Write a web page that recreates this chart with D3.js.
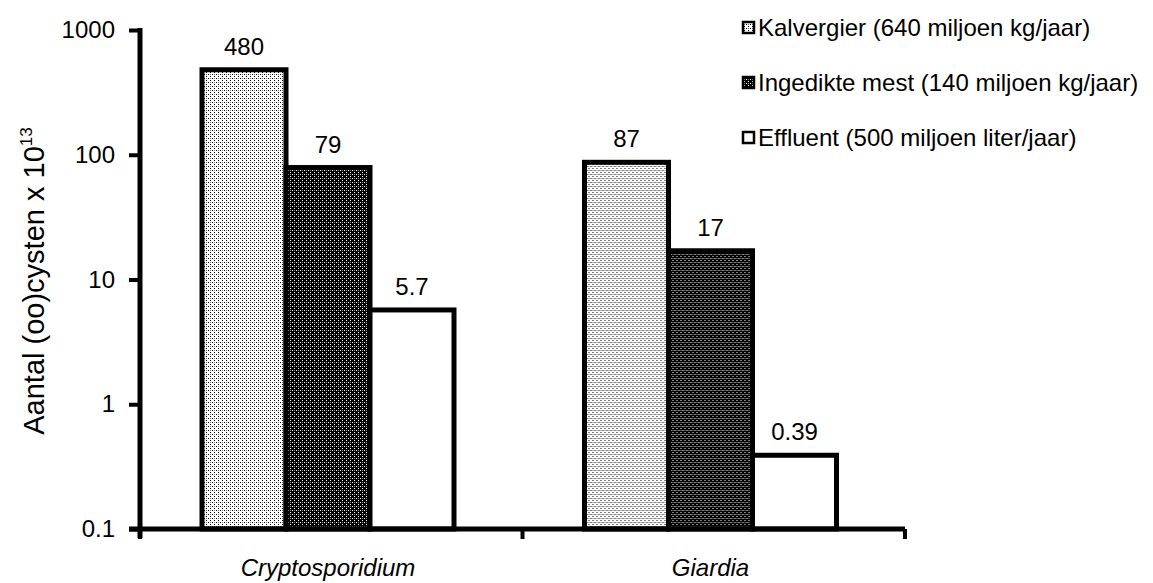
<!DOCTYPE html>
<html>
<head>
<meta charset="utf-8">
<script src="https://cdn.jsdelivr.net/npm/d3@7"></script>
<style>
  body { margin: 0; background: #fff; }
  svg { font-family: "Liberation Sans", Arial, sans-serif; }
</style>
</head>
<body>
<div id="chart-area"></div>
<script>
// data
const categories = ["Cryptosporidium", "Giardia"];
const seriesNames = [
  "Kalvergier (640 miljoen kg/jaar)",
  "Ingedikte mest (140 miljoen kg/jaar)",
  "Effluent (500 miljoen liter/jaar)"
];
const cryptoValues = [480, 79, 5.7];
const giardiaValues = [87, 17, 0.39];
const valueLabels = [["480", "79", "5.7"], ["87", "17", "0.39"]];
const yTicks = [0.1, 1, 10, 100, 1000];
const yTickLabels = ["0.1", "1", "10", "100", "1000"];

const W = 1153, H = 583;
const margin = { left: 140, right: 248, top: 30, bottom: 54 };
const width = W - margin.left - margin.right,
      height = H - margin.top - margin.bottom;

const svg = d3.select("#chart-area")
  .append("svg")
    .attr("width", W)
    .attr("height", H);

// stipple patterns
const defs = svg.append("defs");
const light = defs.append("pattern").attr("id", "light")
  .attr("patternUnits", "userSpaceOnUse").attr("width", 4).attr("height", 4);
light.append("rect").attr("width", 4).attr("height", 4).attr("fill", "#fff");
light.append("rect").attr("x", 0).attr("y", 0).attr("width", 1).attr("height", 1).attr("fill", "#000");
light.append("rect").attr("x", 2).attr("y", 2).attr("width", 1).attr("height", 1).attr("fill", "#000");
light.append("rect").attr("x", 2).attr("y", 0).attr("width", 1).attr("height", 1).attr("fill", "#777");

const dark = defs.append("pattern").attr("id", "dark")
  .attr("patternUnits", "userSpaceOnUse").attr("width", 4).attr("height", 4);
dark.append("rect").attr("width", 4).attr("height", 4).attr("fill", "#000");
dark.append("rect").attr("x", 0).attr("y", 0).attr("width", 1).attr("height", 1).attr("fill", "#fff");
dark.append("rect").attr("x", 2).attr("y", 2).attr("width", 1).attr("height", 1).attr("fill", "#fff");
dark.append("rect").attr("x", 2).attr("y", 0).attr("width", 1).attr("height", 1).attr("fill", "#888");

const fills = ["url(#light)", "url(#dark)", "#fff"];

const g = svg.append("g")
  .attr("transform", "translate(" + margin.left + ", " + margin.top + ")");

const xScale = d3.scaleBand()
  .domain(categories)
  .range([0, width]);

const xInner = d3.scaleBand()
  .domain(d3.range(seriesNames.length))
  .range([62, 62 + 252]);

const yScale = d3.scaleLog()
  .domain([0.1, 1000])
  .range([height, 0]);

const data = [cryptoValues, giardiaValues];

// bars
categories.forEach((cat, ci) => {
  const grp = g.append("g").attr("transform", "translate(" + xScale(cat) + ",0)");
  grp.selectAll("rect")
    .data(data[ci])
    .enter()
    .append("rect")
      .attr("x", (d, i) => xInner(i))
      .attr("y", (d) => yScale(d))
      .attr("width", xInner.bandwidth())
      .attr("height", (d) => height - yScale(d))
      .attr("fill", (d, i) => fills[i])
      .attr("stroke", "#000")
      .attr("stroke-width", 5);

  grp.selectAll("text.val")
    .data(data[ci])
    .enter()
    .append("text")
      .attr("class", "val")
      .attr("x", (d, i) => xInner(i) + xInner.bandwidth() / 2)
      .attr("y", (d) => yScale(d) - 15)
      .attr("text-anchor", "middle")
      .attr("font-size", 24)
      .text((d, i) => valueLabels[ci][i]);
});

// y axis
const yAxis = d3.axisLeft(yScale)
  .tickValues(yTicks)
  .tickFormat((d, i) => yTickLabels[i])
  .tickSize(11)
  .tickPadding(14);
const yg = g.append("g").call(yAxis);
yg.select(".domain").attr("stroke-width", 5).attr("d", "M0,-2V" + (height + 9));
yg.selectAll(".tick line").attr("stroke-width", 4);
yg.selectAll(".tick text").attr("font-size", 24).attr("font-family", "Liberation Sans, Arial, sans-serif").attr("fill", "#000");

// x axis
const xg = g.append("g").attr("transform", "translate(0," + height + ")");
xg.append("line")
  .attr("x1", -11).attr("x2", width)
  .attr("stroke", "#000").attr("stroke-width", 5);
xg.selectAll("line.tick")
  .data(xScale.domain().map((d) => xScale(d)).concat([width]))
  .enter()
  .append("line")
    .attr("class", "tick")
    .attr("x1", (d) => d).attr("x2", (d) => d)
    .attr("y1", 0).attr("y2", 10)
    .attr("stroke", "#000").attr("stroke-width", 4);
xg.selectAll("text")
  .data(categories)
  .enter()
  .append("text")
    .attr("x", (d) => xScale(d) + xInner(0) + 126)
    .attr("y", 47)
    .attr("text-anchor", "middle")
    .attr("font-size", 24)
    .attr("font-style", "italic")
    .text((d) => d);

// y title
const yt = svg.append("text")
  .attr("transform", "translate(44,281) rotate(-90)")
  .attr("text-anchor", "middle")
  .attr("font-size", 29);
yt.append("tspan").text("Aantal (oo)cysten x 10");
yt.append("tspan").attr("font-size", 17).attr("dy", -12).text("13");

// legend
const legend = svg.append("g").attr("transform", "translate(742, 28)");
const li = legend.selectAll("g")
  .data(seriesNames)
  .enter()
  .append("g")
    .attr("transform", (d, i) => "translate(0," + i * 55 + ")");
li.append("rect")
  .attr("x", 1).attr("y", -6)
  .attr("width", 11).attr("height", 11)
  .attr("fill", (d, i) => fills[i])
  .attr("stroke", "#000").attr("stroke-width", 2.5);
li.append("text")
  .attr("x", 16).attr("y", 8)
  .attr("font-size", 24)
  .text((d) => d);
</script>
</body>
</html>
